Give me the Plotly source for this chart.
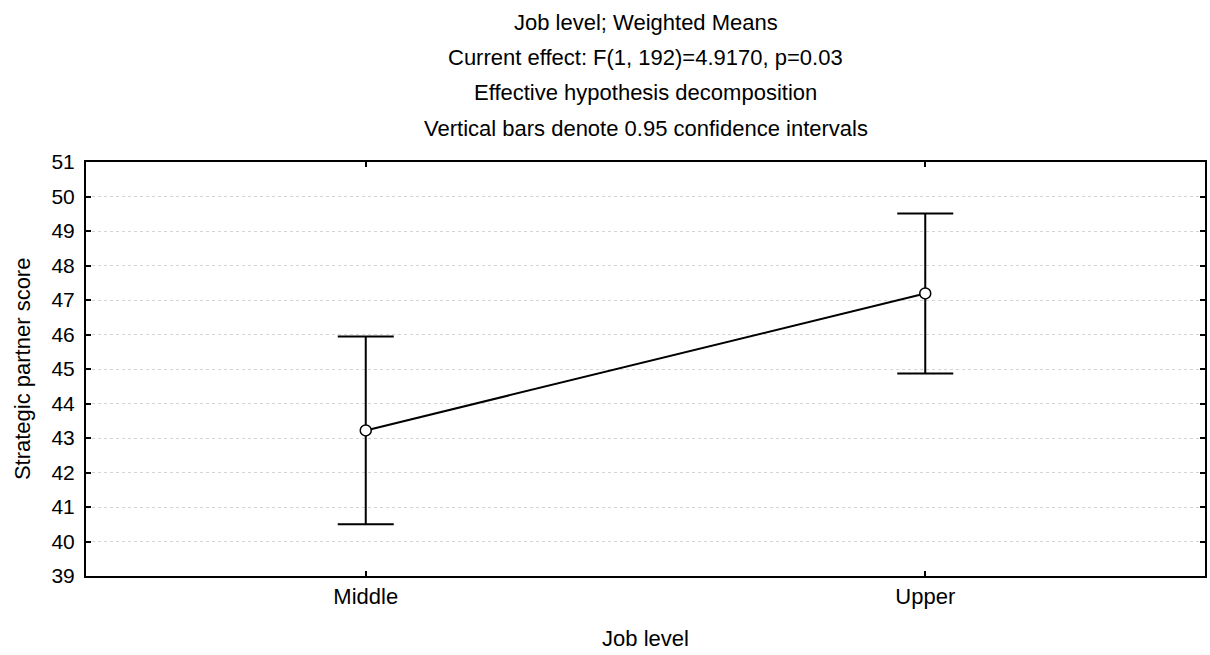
import plotly.graph_objects as go

# Weighted means of strategic partner score by job level, with 95% CIs
categories = ["Middle", "Upper"]
means = [43.22, 47.19]
ci_upper = [45.94, 49.51]
ci_lower = [40.50, 44.87]
y_ticks = list(range(39, 52))

title_lines = [
    "Job level; Weighted Means",
    "Current effect: F(1, 192)=4.9170, p=0.03",
    "Effective hypothesis decomposition",
    "Vertical bars denote 0.95 confidence intervals",
]
y_title = "Strategic partner score"

x_pos = list(range(len(categories)))
err_plus = [u - m for u, m in zip(ci_upper, means)]
err_minus = [m - l for m, l in zip(means, ci_lower)]

FONT = "Liberation Sans, Arial, sans-serif"

fig = go.Figure()
fig.add_trace(go.Scatter(
    x=x_pos,
    y=means,
    mode="lines+markers",
    line=dict(color="black", width=2),
    marker=dict(size=11, color="white", line=dict(color="black", width=1.5)),
    error_y=dict(
        type="data",
        symmetric=False,
        array=err_plus,
        arrayminus=err_minus,
        color="black",
        thickness=2,
        width=28,
    ),
    showlegend=False,
))

margin_l, margin_r = 86, 3
plot_top = 162
plot_h = 414
plot_w = 1210 - margin_l - margin_r

line_centers = [22, 57, 93, 128]
for txt, yc in zip(title_lines, line_centers):
    fig.add_annotation(
        text=txt,
        xref="paper", yref="paper",
        x=0.5, y=1 + (plot_top - yc) / plot_h,
        xanchor="center", yanchor="middle",
        showarrow=False,
        font=dict(family=FONT, size=22, color="black"),
    )

# rotated y-axis title placed close to the left edge
fig.add_annotation(
    text=y_title,
    xref="paper", yref="paper",
    x=(22 - margin_l) / plot_w, y=0.5,
    xanchor="center", yanchor="middle",
    textangle=-90,
    showarrow=False,
    font=dict(family=FONT, size=22, color="black"),
)

fig.update_layout(
    width=1210,
    height=655,
    margin=dict(l=margin_l, r=margin_r, t=plot_top, b=79),
    paper_bgcolor="white",
    plot_bgcolor="white",
    font=dict(family=FONT, size=21, color="black"),
    xaxis=dict(
        range=[-0.5, 1.5],
        tickvals=x_pos,
        ticktext=categories,
        tickfont=dict(size=22),
        ticks="inside",
        ticklen=5,
        tickwidth=2,
        tickcolor="black",
        showline=True,
        linecolor="black",
        linewidth=2,
        mirror="ticks",
        showgrid=False,
        zeroline=False,
        title=dict(text="Job level", standoff=22, font=dict(size=22)),
    ),
    yaxis=dict(
        range=[39, 51],
        tickvals=y_ticks,
        tickfont=dict(size=21),
        ticklabelstandoff=5,
        ticks="inside",
        ticklen=5,
        tickwidth=2,
        tickcolor="black",
        showline=True,
        linecolor="black",
        linewidth=2,
        mirror="ticks",
        showgrid=True,
        gridcolor="#d4d4d4",
        gridwidth=1,
        griddash="dot",
        zeroline=False,
    ),
)

fig.write_html("out.html")
